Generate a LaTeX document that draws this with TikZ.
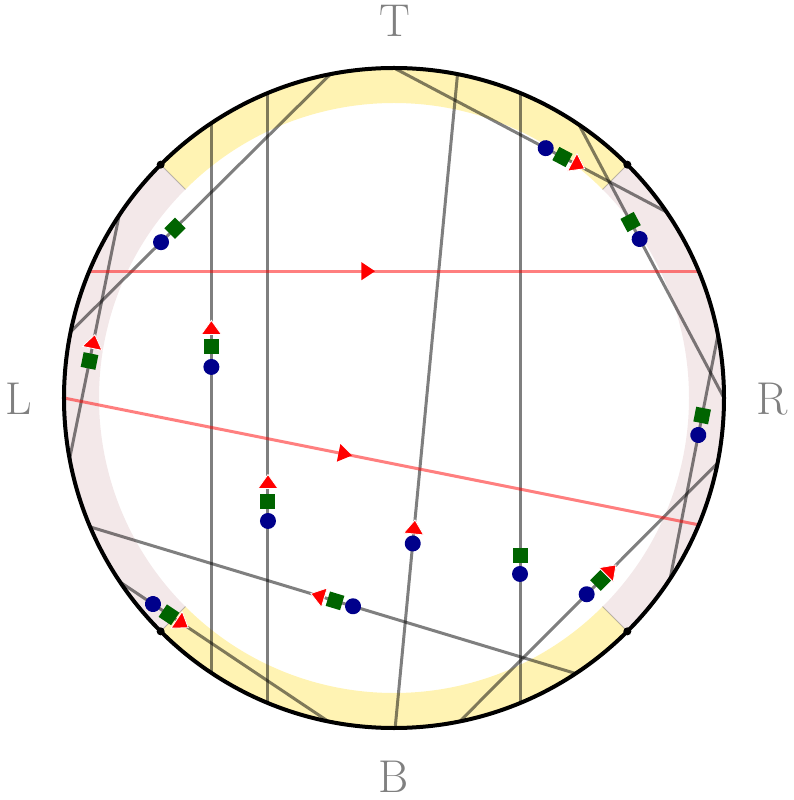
\documentclass[tikz,border=0pt]{standalone}
\usetikzlibrary{shapes.geometric}
\definecolor{bandyellow}{RGB}{255,243,179}
\definecolor{bandpink}{RGB}{243,232,233}
\definecolor{dotblue}{RGB}{0,0,139}
\definecolor{sqgreen}{RGB}{0,100,0}
\begin{document}
\begin{tikzpicture}[x=1pt,y=1pt,
  chord/.style={draw=black, draw opacity=0.5, line width=3pt},
  redline/.style={draw=red, draw opacity=0.5, line width=3pt},
  dotm/.style={circle, fill=dotblue, draw=none, opacity=1, inner sep=0pt, minimum size=16pt, sloped, allow upside down},
  sqm/.style={rectangle, fill=sqgreen, draw=none, opacity=1, inner sep=0pt, minimum size=15pt, sloped, allow upside down},
  onl/.style={sloped, allow upside down},
  tri/.pic={\fill[red, draw=white, line width=0.8pt, opacity=1] (7.5,0) -- (-6.5,10) -- (-6.5,-10) -- cycle;},
  arrtri/.pic={\fill[red, opacity=1] (7,0) -- (-6.5,9) -- (-6.5,-9) -- cycle;},
  edge/.style={draw=black, draw opacity=0.25, line width=1pt},
  lbl/.style={text=black!50, font=\fontsize{46}{50}\selectfont, inner sep=0pt},
  corner/.style={circle, fill=black, inner sep=0pt, minimum size=8pt}
]
\useasboundingbox (-394,-402) rectangle (399,398);

% bands
\fill[bandyellow] (45:330) arc[start angle=45,end angle=135,radius=330] -- (135:295) arc[start angle=135,end angle=45,radius=295] -- cycle;
\fill[bandyellow] (225:330) arc[start angle=225,end angle=315,radius=330] -- (315:295) arc[start angle=315,end angle=225,radius=295] -- cycle;
\fill[bandpink] (135:330) arc[start angle=135,end angle=225,radius=330] -- (225:295) arc[start angle=225,end angle=135,radius=295] -- cycle;
\fill[bandpink] (-45:330) arc[start angle=-45,end angle=45,radius=330] -- (45:295) arc[start angle=45,end angle=-45,radius=295] -- cycle;

% sector boundaries
\coordinate (e1o) at (45:330);  \coordinate (e1i) at (45:295);
\coordinate (e2o) at (135:330); \coordinate (e2i) at (135:295);
\coordinate (e3o) at (225:330); \coordinate (e3i) at (225:295);
\coordinate (e4o) at (315:330); \coordinate (e4i) at (315:295);
\draw[edge] (e1o) -- (e1i);
\draw[edge] (e2o) -- (e2i);
\draw[edge] (e3o) -- (e3i);
\draw[edge] (e4o) -- (e4i);

% chord end points
\coordinate (c1a) at (-123.6:330); \coordinate (c1b) at (123.6:330);
\coordinate (c2a) at (-112.45:330); \coordinate (c2b) at (112.45:330);
\coordinate (c3a) at (-67.55:330); \coordinate (c3b) at (67.55:330);
\coordinate (c4a) at (-89.8:330); \coordinate (c4b) at (78.9:330);
\coordinate (c5a) at (168.4:330); \coordinate (c5b) at (101.1:330);
\coordinate (c6a) at (190.6:330); \coordinate (c6b) at (146.4:330);
\coordinate (c7a) at (90:330); \coordinate (c7b) at (34.3:330);
\coordinate (c8a) at (0:330); \coordinate (c8b) at (55.9:330);
\coordinate (c9a) at (-33.2:330); \coordinate (c9b) at (11.0:330);
\coordinate (c10a) at (-78.5:330); \coordinate (c10b) at (-11.4:330);
\coordinate (c11a) at (-56.6:330); \coordinate (c11b) at (203.0:330);
\coordinate (c12a) at (213.9:330); \coordinate (c12b) at (258.5:330);
\coordinate (ra) at (157.4:330); \coordinate (rb) at (22.6:330);
\coordinate (sa) at (180:330); \coordinate (sb) at (-22.6:330);

% gray chords with markers
\draw[chord] (c1a) -- (c1b)
  node[dotm,pos=0.5565] (m1c) {} node[sqm,pos=0.5929] (m1s) {} pic[onl,pos=0.6275] (m1t) {tri};
\draw[chord] (c2a) -- (c2b)
  node[dotm,pos=0.2984] (m2c) {} node[sqm,pos=0.3311] (m2s) {} pic[onl,pos=0.3623] (m2t) {tri};
\draw[chord] (c3a) -- (c3b)
  node[dotm,pos=0.2115] (m3c) {} node[sqm,pos=0.2426] (m3s) {};
\draw[chord] (c4a) -- (c4b)
  node[dotm,pos=0.2822] (m4c) {} pic[onl,pos=0.3067] (m4t) {tri};
\draw[chord] (c5a) -- (c5b)
  node[dotm,pos=0.3476] (m5c) {} node[sqm,pos=0.4015] (m5s) {};
\draw[chord] (c6a) -- (c6b)
  node[sqm,pos=0.4016] (m6s) {} pic[onl,pos=0.4797] (m6t) {tri};
\draw[chord] (c7a) -- (c7b)
  node[dotm,pos=0.5565] (m7c) {} node[sqm,pos=0.618] (m7s) {} pic[onl,pos=0.675] (m7t) {tri};
\draw[chord] (c8a) -- (c8b)
  node[dotm,pos=0.5818] (m8c) {} node[sqm,pos=0.644] (m8s) {};
\draw[chord] (c9a) -- (c9b)
  node[dotm,pos=0.5897] (m9c) {} node[sqm,pos=0.6697] (m9s) {};
\draw[chord] (c10a) -- (c10b)
  node[dotm,pos=0.4924] (m10c) {} node[sqm,pos=0.5468] (m10s) {} pic[onl,pos=0.5856] (m10t) {tri};
\draw[chord] (c11a) -- (c11b)
  node[dotm,pos=0.4586] (m11c) {} node[sqm,pos=0.4957] (m11s) {} pic[onl,pos=0.5307] (m11t) {tri};
\draw[chord] (c12a) -- (c12b)
  node[dotm,pos=0.158] (m12c) {} node[sqm,pos=0.235] (m12s) {} pic[onl,pos=0.2975] (m12t) {tri};

% red rays
\draw[redline] (ra) -- (rb) pic[onl,pos=0.4573] (ar1) {arrtri};
\draw[redline] (sa) -- (sb) pic[onl,pos=0.4427] (ar2) {arrtri};

% outer circle
\draw[line width=4pt] (0,0) circle[radius=330];
\node[corner] (d1) at (45:330) {};
\node[corner] (d2) at (135:330) {};
\node[corner] (d3) at (225:330) {};
\node[corner] (d4) at (315:330) {};

% labels
\node[lbl] (T) at (0.5,377) {T};
\node[lbl] (L) at (-375.5,-1) {L};
\node[lbl] (R) at (378,-1) {R};
\node[lbl] (B) at (0,-379) {B};
\end{tikzpicture}
\end{document}
